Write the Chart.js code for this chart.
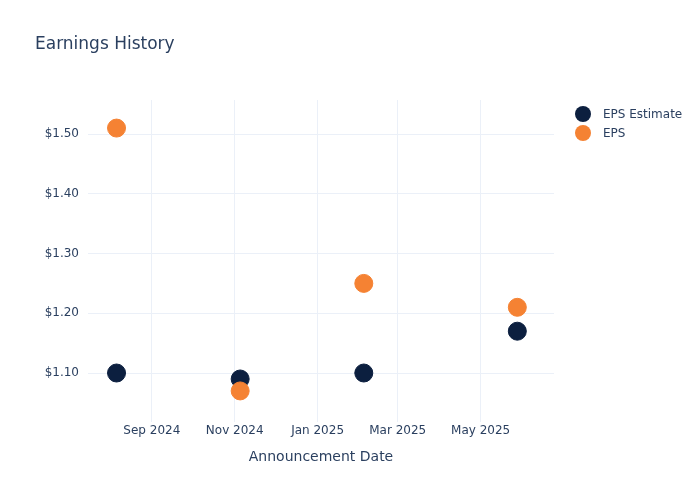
<!DOCTYPE html>
<html>
<head>
<meta charset="utf-8">
<script src="https://cdn.jsdelivr.net/npm/chart.js@4/dist/chart.umd.min.js"></script>
<style>
html,body{margin:0;padding:0;background:#fff}
#wrap{width:700px;height:500px;position:relative}
</style>
</head>
<body>
<div id="wrap"><canvas id="mainChart" width="700" height="500"></canvas></div>
<script>

// data
const announceDates=["2024-08-06","2024-11-05","2025-02-04","2025-05-28"]
const epsEstimate=[1.10,1.09,1.10,1.17]
const epsActual=[1.51,1.07,1.25,1.21]

const xTickDates=["2024-09-01","2024-11-01","2025-01-01","2025-03-01","2025-05-01"]
const xTickLabels=["Sep 2024","Nov 2024","Jan 2025","Mar 2025","May 2025"]
const yTicks=[1.10,1.20,1.30,1.40,1.50]

const seriesNames=["EPS Estimate","EPS"]
const seriesColors=["#0c1f3f","#f58233"]

const textColor="#2a3f5f"
const gridColor="#ebf0f8"
const fontFamily="'DejaVu Sans', Verdana, sans-serif"

const toTime=d=>new Date(d).getTime()

function toPoints(values){
return announceDates.map((d,i)=>({x:toTime(d),y:values[i]}))
}

const xTickMap={}
xTickDates.forEach((d,i)=>{xTickMap[toTime(d)]=xTickLabels[i]})

// title + legend drawn at fixed spots like the plotly layout
const decorPlugin={
id:"decor",
afterDraw(chart){
const ctx=chart.ctx
ctx.save()
ctx.fillStyle=textColor
ctx.font="17px "+fontFamily
ctx.textBaseline="middle"
ctx.textAlign="left"
ctx.fillText("Earnings History",35,45)

ctx.font="12px "+fontFamily
chart.data.datasets.forEach((ds,i)=>{
const y=114+i*19
ctx.beginPath()
ctx.arc(583,y,8,0,Math.PI*2)
ctx.fillStyle=ds.backgroundColor
ctx.fill()
ctx.fillStyle=textColor
ctx.fillText(ds.label,603,y+1)
})
ctx.restore()
}
}

const ctx=document.getElementById("mainChart")

new Chart(ctx,{
type:"scatter",
data:{
datasets:[
{label:seriesNames[0],data:toPoints(epsEstimate),backgroundColor:seriesColors[0],borderColor:seriesColors[0],pointRadius:9,order:1},
{label:seriesNames[1],data:toPoints(epsActual),backgroundColor:seriesColors[1],borderColor:seriesColors[1],pointRadius:9,order:0}
]
},
options:{
responsive:false,
animation:false,
events:[],
layout:{padding:{left:0,right:146,top:100,bottom:0}},
plugins:{
legend:{display:false},
title:{display:false},
tooltip:{enabled:false}
},
scales:{
x:{
type:"linear",
min:toTime("2024-07-16"),
max:toTime("2025-06-24"),
border:{display:false},
grid:{color:gridColor,drawTicks:false},
afterBuildTicks(scale){
scale.ticks=xTickDates.map(d=>({value:toTime(d)}))
},
afterFit(scale){scale.height=78},
ticks:{
color:textColor,
font:{family:fontFamily,size:12},
padding:2,
maxRotation:0,
autoSkip:false,
callback:v=>xTickMap[v]
},
title:{
display:true,
text:"Announcement Date",
color:textColor,
font:{family:fontFamily,size:14},
padding:{top:0,bottom:34}
}
},
y:{
min:1.018,
max:1.557,
border:{display:false},
grid:{color:gridColor,drawTicks:false},
afterBuildTicks(scale){
scale.ticks=yTicks.map(v=>({value:v}))
},
afterFit(scale){scale.width=88},
ticks:{
color:textColor,
font:{family:fontFamily,size:12},
padding:9,
callback:v=>"$"+v.toFixed(2)
}
}
}
},
plugins:[decorPlugin]
})

</script>
</body>
</html>
